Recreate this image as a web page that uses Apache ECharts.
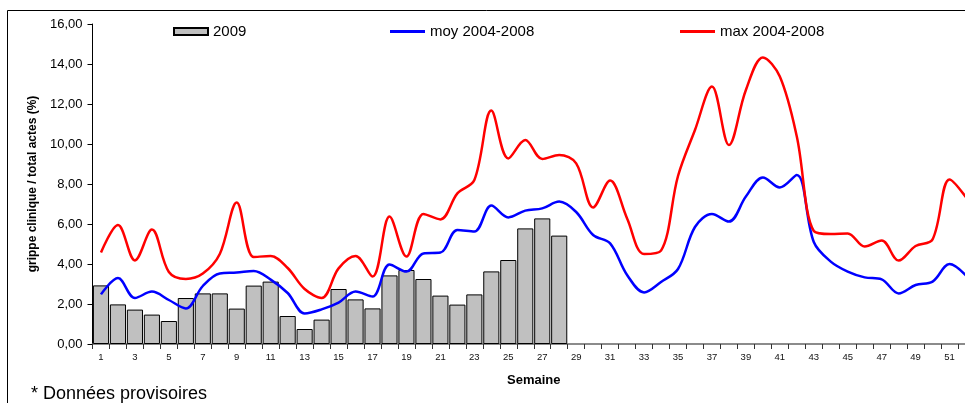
<!DOCTYPE html>
<html>
<head>
<meta charset="utf-8">
<script src="https://cdn.jsdelivr.net/npm/echarts@6.0.0/dist/echarts.min.js"></script>
<style>
  html, body { margin: 0; padding: 0; background: #fff; }
  #chart { width: 965px; height: 403px; }
</style>
</head>
<body>
<div id="chart"></div>
<script>
// semaines 1..52
const weeks = Array.from({ length: 52 }, (_, i) => String(i + 1));

// 2009 (données provisoires), semaines 1..28
const grippe2009 = [2.93, 1.98, 1.72, 1.47, 1.15, 2.30, 2.53, 2.53, 1.77, 2.92,
  3.12, 1.40, 0.75, 1.22, 2.75, 2.23, 1.78, 3.43, 3.70, 3.25,
  2.42, 1.97, 2.48, 3.63, 4.20, 5.78, 6.28, 5.42];

const moy0408 = [2.48, 3.30, 2.30, 2.62, 2.20, 1.78, 2.90, 3.53, 3.57, 3.65,
  3.22, 2.55, 1.53, 1.73, 2.07, 2.62, 2.37, 3.97, 3.62, 4.53,
  4.57, 5.70, 5.62, 6.92, 6.33, 6.67, 6.78, 7.12, 6.60, 5.45,
  5.03, 3.45, 2.58, 3.10, 3.75, 5.85, 6.50, 6.12, 7.37, 8.33,
  7.83, 8.45, 5.10, 4.12, 3.62, 3.33, 3.23, 2.53, 2.95, 3.12,
  4.00, 3.40];

const max0408 = [4.57, 5.95, 4.18, 5.72, 3.60, 3.25, 3.52, 4.50, 7.07, 4.35,
  4.40, 3.80, 2.75, 2.30, 3.78, 4.40, 3.37, 6.37, 4.37, 6.50,
  6.23, 7.53, 8.20, 11.67, 9.28, 10.20, 9.25, 9.45, 9.03, 6.83,
  8.17, 6.28, 4.50, 4.67, 8.40, 10.70, 12.87, 9.95, 12.70, 14.33,
  13.37, 10.37, 5.65, 5.50, 5.53, 4.87, 5.17, 4.17, 4.90, 5.23,
  8.23, 7.30];

const FONT = "'Liberation Sans', Arial, sans-serif";

const chart = echarts.init(document.getElementById("chart"), null, { renderer: "canvas" });

chart.setOption({
  animation: false,
  backgroundColor: "#fff",
  textStyle: { fontFamily: FONT, color: "#000" },
  legend: [
    {
      data: [{ name: "2009", icon: "rect" }],
      left: 168, top: 19,
      itemWidth: 34, itemHeight: 7, itemGap: 5,
      textStyle: { fontFamily: FONT, fontSize: 15, color: "#000" },
    },
    {
      data: [{ name: "moy 2004-2008", icon: "rect" }],
      left: 385, top: 19,
      itemWidth: 35, itemHeight: 3,
      textStyle: { fontFamily: FONT, fontSize: 15, color: "#000" },
    },
    {
      data: [{ name: "max 2004-2008", icon: "rect" }],
      left: 675, top: 19,
      itemWidth: 35, itemHeight: 3,
      textStyle: { fontFamily: FONT, fontSize: 15, color: "#000" },
    },
  ],
  grid: {
    left: 92.5, top: 24, width: 882.5, height: 320,
    outerBoundsMode: "none",
  },
  xAxis: {
    type: "category",
    data: weeks,
    boundaryGap: true,
    name: "Semaine",
    nameLocation: "middle",
    nameGap: 30,
    nameTextStyle: { fontFamily: FONT, fontSize: 13, fontWeight: "bold", color: "#000" },
    axisLine: { lineStyle: { color: "#666", width: 1.5 } },
    axisTick: { show: true, interval: 0, length: 5, lineStyle: { color: "#333" } },
    axisLabel: { interval: 1, fontSize: 9.5, color: "#111", margin: 8, hideOverlap: false },
    splitLine: { show: false },
  },
  yAxis: {
    type: "value",
    min: 0, max: 16, interval: 2,
    name: "grippe clinique / total actes (%)",
    nameLocation: "middle",
    nameGap: 53,
    nameTextStyle: { fontFamily: FONT, fontSize: 12, fontWeight: "bold", color: "#000" },
    axisLine: { show: true, lineStyle: { color: "#000", width: 1 } },
    axisTick: { show: true, length: 5, lineStyle: { color: "#000" } },
    axisLabel: {
      fontSize: 13, color: "#000", margin: 10,
      formatter: (v) => v.toFixed(2).replace(".", ","),
    },
    splitLine: { show: false },
  },
  series: [
    {
      name: "2009",
      type: "bar",
      data: grippe2009,
      barCategoryGap: "5%",
      itemStyle: { color: "#C0C0C0", borderColor: "#000", borderWidth: 1 },
    },
    {
      name: "moy 2004-2008",
      type: "line",
      data: moy0408,
      smooth: 0.35,
      showSymbol: false,
      symbol: "none",
      itemStyle: { color: "#0000FF" },
      lineStyle: { color: "#0000FF", width: 2.5 },
    },
    {
      name: "max 2004-2008",
      type: "line",
      data: max0408,
      smooth: 0.35,
      showSymbol: false,
      symbol: "none",
      itemStyle: { color: "#FF0000" },
      lineStyle: { color: "#FF0000", width: 2.5 },
    },
  ],
  graphic: [
    {
      type: "rect",
      shape: { x: 7.5, y: 10.5, width: 1000, height: 500 },
      style: { fill: "none", stroke: "#000", lineWidth: 1 },
      silent: true,
    },
    {
      type: "text",
      left: 31, top: 385,
      style: { text: "* Données provisoires", fontFamily: FONT, fontSize: 18, fill: "#000" },
    },
  ],
});
</script>
</body>
</html>
